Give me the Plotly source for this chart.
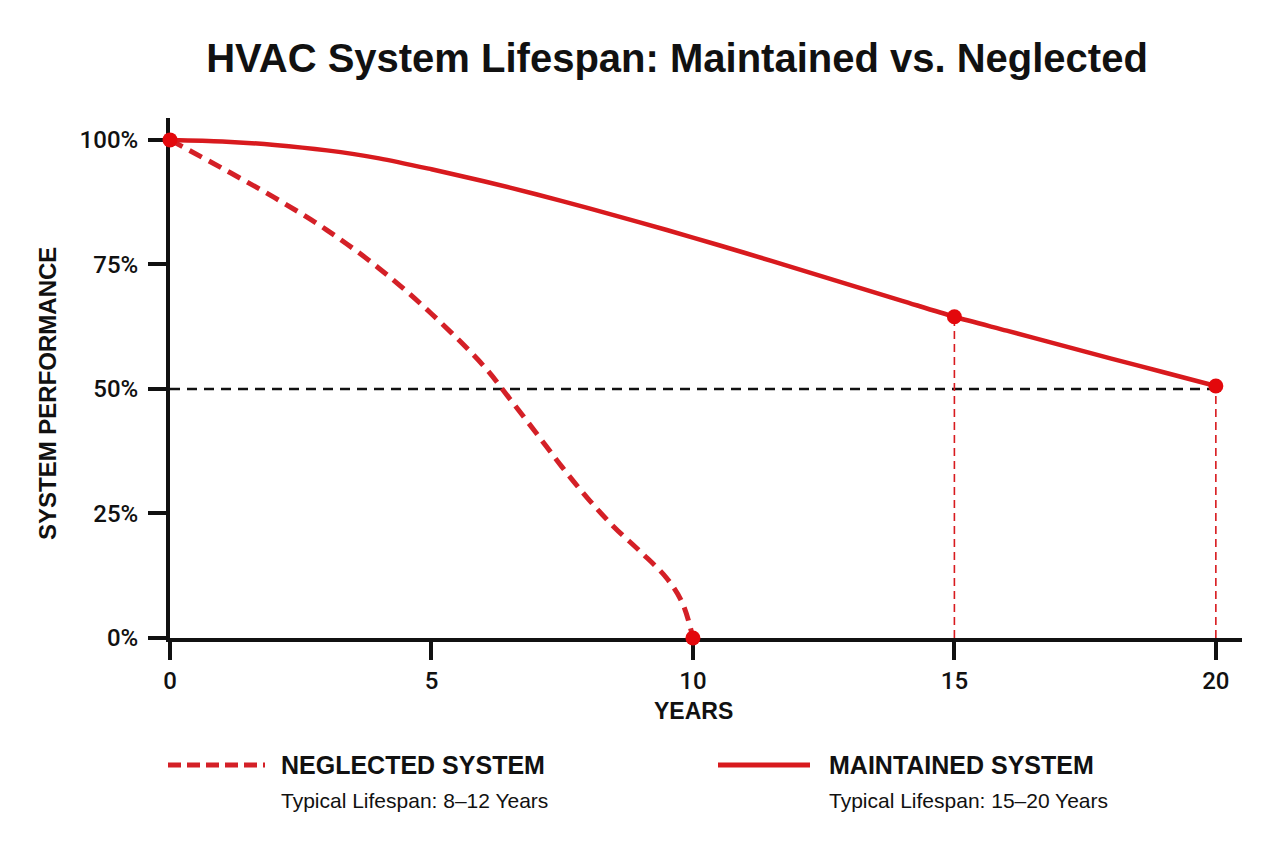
import plotly.graph_objects as go

# ---- data ----
years_maintained = [0, 1, 2, 3, 4, 5, 6, 7, 8, 9, 10, 11, 12, 13, 14, 15, 16, 17, 18, 19, 20]
perf_maintained = [100, 99.7, 99.0, 97.9, 96.3, 94.1, 91.7, 89.1, 86.3, 83.4, 80.4,
                   77.3, 74.1, 70.9, 67.7, 64.5, 61.7, 58.9, 56.1, 53.35, 50.6]
maintained_marker_years = [15, 20]

years_neglected = [0, 1, 2, 3, 4, 5, 6, 6.5, 7, 7.5, 8, 8.5, 9, 9.5, 9.8, 10]
perf_neglected = [100, 94.3, 88.4, 81.9, 74.2, 65.1, 54.6, 48.0, 41.2, 34.3, 27.9, 22.2, 17.3, 12.0, 7.0, 0]
neglected_marker_years = [0, 10]

threshold = 50
x_ticks = [0, 5, 10, 15, 20]
y_ticks = [0, 25, 50, 75, 100]
y_tick_labels = ["0%", "25%", "50%", "75%", "100%"]

title_text = "HVAC System Lifespan: Maintained vs. Neglected"
x_title = "YEARS"
y_title = "SYSTEM PERFORMANCE"
legend_names = ["NEGLECTED SYSTEM", "MAINTAINED SYSTEM"]
legend_subs = ["Typical Lifespan: 8\u201312 Years", "Typical Lifespan: 15\u201320 Years"]

RED = "#d81a1e"
RED_DASH = "#d42027"
MARK = "#e3080c"
FONT = "Liberation Sans, Arial, sans-serif"
TICKFONT = "Roboto, Liberation Sans, sans-serif"

fig = go.Figure()

# 50% threshold line
fig.add_trace(go.Scatter(
    x=[0, years_maintained[-1]], y=[threshold, threshold], mode="lines",
    line=dict(color="#111111", width=2.5, dash="10px,7px"),
    hoverinfo="skip", showlegend=False))

# vertical guides at maintained markers
for yr in maintained_marker_years:
    val = perf_maintained[years_maintained.index(yr)]
    fig.add_trace(go.Scatter(
        x=[yr, yr], y=[0, val], mode="lines",
        line=dict(color=RED, width=1.6, dash="8px,5px"),
        hoverinfo="skip", showlegend=False))

# neglected curve
fig.add_trace(go.Scatter(
    x=years_neglected, y=perf_neglected, mode="lines",
    line=dict(color=RED_DASH, width=5, dash="14px,8px", shape="spline", smoothing=1.0),
    showlegend=False, cliponaxis=False))

# maintained curve
fig.add_trace(go.Scatter(
    x=years_maintained, y=perf_maintained, mode="lines",
    line=dict(color=RED, width=4.5, shape="spline", smoothing=0.8),
    showlegend=False, cliponaxis=False))

# markers
mx = [years_neglected[0]] + [years_neglected[-1]] + maintained_marker_years
my = [perf_neglected[0], perf_neglected[-1]] + [perf_maintained[years_maintained.index(v)] for v in maintained_marker_years]
fig.add_trace(go.Scatter(
    x=mx, y=my, mode="markers",
    marker=dict(color=MARK, size=15, line=dict(width=0)),
    showlegend=False, cliponaxis=False))

L, R, T, B = 170, 38, 118, 212
W, H = 1280, 850
pw, ph = W - L - R, H - T - B

def px(x):
    return (x - L) / pw

def py(y):
    return (H - B - y) / ph

annotations = [
    dict(text=x_title, x=px(693), y=py(711), xref="paper", yref="paper",
         showarrow=False, font=dict(family=FONT, size=23, color="#111111", weight="bold"),
         xanchor="center", yanchor="middle"),
    dict(text=y_title, x=px(47), y=py(394), xref="paper", yref="paper", textangle=-90,
         showarrow=False, font=dict(family=FONT, size=24, color="#111111", weight="bold"),
         xanchor="center", yanchor="middle"),
]
legend_pos = [(168, 265, 279), (718, 810, 827)]
shapes = []
for i, (x0, x1, tx) in enumerate(legend_pos):
    shapes.append(dict(type="line", xref="paper", yref="paper",
                       x0=px(x0), x1=px(x1), y0=py(765), y1=py(765),
                       line=dict(color=RED_DASH if i == 0 else RED, width=5,
                                 dash="13px,6px" if i == 0 else "solid")))
    annotations.append(dict(text=legend_names[i], x=px(tx), y=py(765), xref="paper", yref="paper",
                            showarrow=False, xanchor="left", yanchor="middle",
                            font=dict(family=FONT, size=25, color="#111111", weight="bold")))
    annotations.append(dict(text=legend_subs[i], x=px(tx), y=py(800), xref="paper", yref="paper",
                            showarrow=False, xanchor="left", yanchor="middle",
                            font=dict(family=FONT, size=21, color="#111111")))

fig.update_layout(
    width=W, height=H,
    margin=dict(l=L, r=R, t=T, b=B),
    paper_bgcolor="white", plot_bgcolor="white",
    title=dict(text=title_text, x=677 / W, xanchor="center", y=1 - 58 / H, yanchor="middle",
               xref="container",
               font=dict(family=FONT, size=40, color="#111111", weight="bold")),
    xaxis=dict(range=[0, 20.5], tickvals=x_ticks, ticktext=[str(v) for v in x_ticks],
               showgrid=False, zeroline=False, showline=True, linecolor="#111111", linewidth=4,
               ticks="outside", ticklen=18, tickwidth=3.5, tickcolor="#111111",
               tickfont=dict(family=TICKFONT, size=24, color="#111111", weight=500),
               layer="below traces", fixedrange=True),
    yaxis=dict(range=[0, 104.4], tickvals=y_ticks, ticktext=y_tick_labels,
               showgrid=False, zeroline=False, showline=True, linecolor="#111111", linewidth=4,
               ticks="outside", ticklen=18, tickwidth=3.5, tickcolor="#111111",
               tickfont=dict(family=TICKFONT, size=24, color="#111111", weight=500),
               ticklabelstandoff=5,
               layer="below traces", fixedrange=True),
    shapes=shapes,
    annotations=annotations,
    showlegend=False,
)

fig.write_html("out.html")
